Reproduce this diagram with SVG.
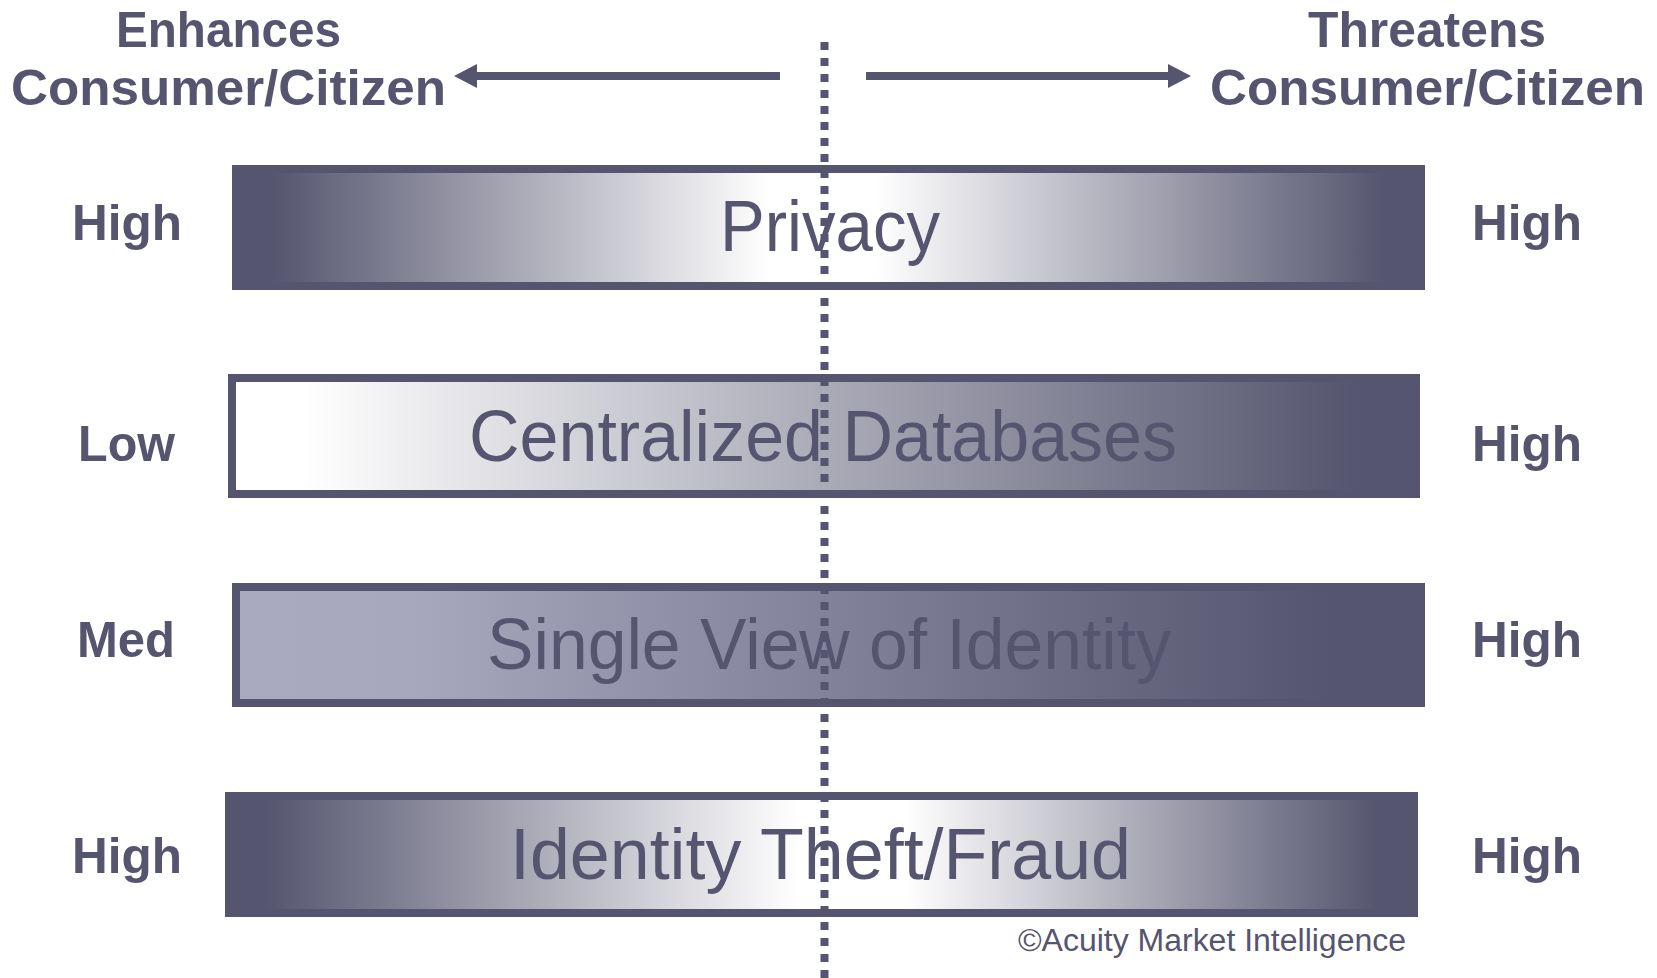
<svg xmlns="http://www.w3.org/2000/svg" width="1657" height="978" viewBox="0 0 1657 978">
<style>
.hdr{font-family:"Liberation Sans",Arial,sans-serif;font-weight:700;font-size:50px;fill:#55556F}
.lvl{font-family:"Liberation Sans",Arial,sans-serif;font-weight:700;font-size:50px;fill:#55556F}
.bar{stroke:#55556F;stroke-width:8}
.barlbl{font-family:"Liberation Sans",Arial,sans-serif;font-size:73px;fill:#55556F}
.copy{font-family:"Liberation Sans",Arial,sans-serif;font-size:31px;fill:#55556F}
.arrow{stroke:#55556F;stroke-width:8;fill:none}
.dots{stroke:#55556F;stroke-width:8;stroke-dasharray:8 8;fill:none}
</style>
<defs>
<linearGradient id="gSym" x1="0" y1="0" x2="1" y2="0">
<stop offset="0" stop-color="#55556F"/>
<stop offset="0.03" stop-color="#55556F"/>
<stop offset="0.45" stop-color="#FFFFFF"/>
<stop offset="0.54" stop-color="#FFFFFF"/>
<stop offset="0.97" stop-color="#55556F"/>
<stop offset="1" stop-color="#55556F"/>
</linearGradient>
<linearGradient id="gSym2" x1="0" y1="0" x2="1" y2="0">
<stop offset="0" stop-color="#55556F"/>
<stop offset="0.03" stop-color="#55556F"/>
<stop offset="0.48" stop-color="#FFFFFF"/>
<stop offset="0.57" stop-color="#FFFFFF"/>
<stop offset="0.97" stop-color="#55556F"/>
<stop offset="1" stop-color="#55556F"/>
</linearGradient>
<linearGradient id="gWhite" x1="0" y1="0" x2="1" y2="0">
<stop offset="0" stop-color="#FFFFFF"/>
<stop offset="0.06" stop-color="#FFFFFF"/>
<stop offset="0.95" stop-color="#55556F"/>
<stop offset="1" stop-color="#55556F"/>
</linearGradient>
<linearGradient id="gLav" x1="0" y1="0" x2="1" y2="0">
<stop offset="0" stop-color="#A9A9C0"/>
<stop offset="0.15" stop-color="#A7A7BE"/>
<stop offset="0.92" stop-color="#55556F"/>
<stop offset="1" stop-color="#55556F"/>
</linearGradient>
<marker id="head" viewBox="0 0 23 24" markerWidth="23" markerHeight="24" refX="0" refY="12" orient="auto" markerUnits="userSpaceOnUse">
<path d="M0,0 L23,12 L0,24 Z" fill="#55556F"/>
</marker>
</defs>

<g id="header-left">
<text class="hdr" x="116" y="47" textLength="225" lengthAdjust="spacingAndGlyphs">Enhances</text>
<text class="hdr" x="11" y="105" textLength="435" lengthAdjust="spacingAndGlyphs">Consumer/Citizen</text>
</g>
<g id="header-right">
<text class="hdr" x="1308" y="47" textLength="238" lengthAdjust="spacingAndGlyphs">Threatens</text>
<text class="hdr" x="1210" y="105" textLength="435" lengthAdjust="spacingAndGlyphs">Consumer/Citizen</text>
</g>

<g id="bar-privacy">
<rect class="bar" x="236" y="169" width="1185" height="117" fill="url(#gSym)"/>
<text class="barlbl" x="720" y="251" textLength="220" lengthAdjust="spacingAndGlyphs">Privacy</text>
</g>
<g id="bar-centralized">
<rect class="bar" x="232" y="378" width="1184" height="116" fill="url(#gWhite)"/>
<text class="barlbl" x="469" y="461" textLength="708" lengthAdjust="spacingAndGlyphs">Centralized Databases</text>
</g>
<g id="bar-single-view">
<rect class="bar" x="236" y="587" width="1185" height="116" fill="url(#gLav)"/>
<text class="barlbl" x="487" y="669" textLength="684" lengthAdjust="spacingAndGlyphs">Single View of Identity</text>
</g>
<g id="bar-identity-theft">
<rect class="bar" x="229" y="796" width="1185" height="117" fill="url(#gSym2)"/>
<text class="barlbl" x="510" y="879" textLength="621" lengthAdjust="spacingAndGlyphs">Identity Theft/Fraud</text>
</g>

<g id="levels-left">
<text class="lvl" x="72" y="240" textLength="110" lengthAdjust="spacingAndGlyphs">High</text>
<text class="lvl" x="78" y="461" textLength="97" lengthAdjust="spacingAndGlyphs">Low</text>
<text class="lvl" x="77" y="657" textLength="98" lengthAdjust="spacingAndGlyphs">Med</text>
<text class="lvl" x="72" y="873" textLength="110" lengthAdjust="spacingAndGlyphs">High</text>
</g>
<g id="levels-right">
<text class="lvl" x="1472" y="240" textLength="110" lengthAdjust="spacingAndGlyphs">High</text>
<text class="lvl" x="1472" y="461" textLength="110" lengthAdjust="spacingAndGlyphs">High</text>
<text class="lvl" x="1472" y="657" textLength="110" lengthAdjust="spacingAndGlyphs">High</text>
<text class="lvl" x="1472" y="873" textLength="110" lengthAdjust="spacingAndGlyphs">High</text>
</g>

<g id="connectors">
<line class="arrow" x1="780" y1="76" x2="477" y2="76" marker-end="url(#head)"/>
<line class="arrow" x1="866" y1="76" x2="1168" y2="76" marker-end="url(#head)"/>
<line class="dots" x1="824.5" y1="42" x2="824.5" y2="978"/>
</g>

<g id="copyright">
<text class="copy" x="1018" y="951" textLength="388" lengthAdjust="spacingAndGlyphs">©Acuity Market Intelligence</text>
</g>
</svg>
